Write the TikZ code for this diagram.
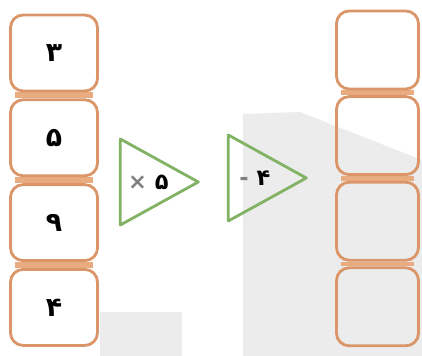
\documentclass[tikz,border=0pt]{standalone}
\usepackage{fontspec}
\newfontfamily\farsi[Script=Arabic]{DejaVu Sans}
\usetikzlibrary{positioning,shapes.geometric}
\definecolor{boxorange}{RGB}{218,150,104}
\definecolor{bandorange}{RGB}{232,172,128}
\definecolor{trigreen}{RGB}{130,178,100}
\definecolor{shade}{RGB}{236,236,236}
\tikzset{%
numbox/.style={draw=boxorange, line width=2pt, rounded corners=9pt,
               minimum width=2.175cm, minimum height=1.9cm,
               font=\farsi\bfseries\fontsize{19}{22}\selectfont},
ansbox/.style={numbox, minimum width=2.05cm, minimum height=1.95cm},
operator/.style={draw=trigreen, line width=2pt, line join=round, isosceles triangle,
                 isosceles triangle stretches, minimum width=2.15cm, minimum height=1.95cm,
                 inner sep=0pt, font=\farsi\bfseries\fontsize{16}{19}\selectfont},
band/.style={fill=bandorange},
watermark/.style={fill=shade}
}
\pgfdeclarelayer{background}
\pgfdeclarelayer{backbackground}
\pgfsetlayers{backbackground,background,main}

\begin{document}
\begin{tikzpicture}
\useasboundingbox (0,0) rectangle (10.55,8.9);

\node[numbox]                 (num1) at (1.35,7.575)  {۳};
\foreach \n/\p/\d in {2/1/۵,3/2/۹,4/3/۴}
  \node[numbox,below = 1.5mm] (num\n) at (num\p.south) {\d};

\node[ansbox]                 (ans1) at (9.4375,7.65) {};
\foreach \n/\p in {2/1,3/2,4/3}
  \node[ansbox,below = 1.2mm] (ans\n) at (ans\p.south) {};

\node[operator,anchor=apex]   (times) at (5.05,4.35)  {\textcolor{gray}{×}\ ۵};
\node[operator,anchor=apex]   (minus) at (7.75,4.45)  {\textcolor{gray}{-}\ ۴};

\begin{pgfonlayer}{background}
\foreach \a/\b in {num1/num2,num2/num3,num3/num4,ans1/ans2,ans2/ans3,ans3/ans4}
  \fill[band] ([xshift=4pt]\a.south west) rectangle ([xshift=-4pt]\b.north east);
\end{pgfonlayer}

\begin{pgfonlayer}{backbackground}
\fill[watermark] (6.075,0) -- (6.075,6.05) -- (7.5,6.1) -- (10.55,4.9) -- (10.55,0) -- cycle;
\fill[watermark] (2.5,0) rectangle (4.55,1.1);
\end{pgfonlayer}
\end{tikzpicture}
\end{document}
